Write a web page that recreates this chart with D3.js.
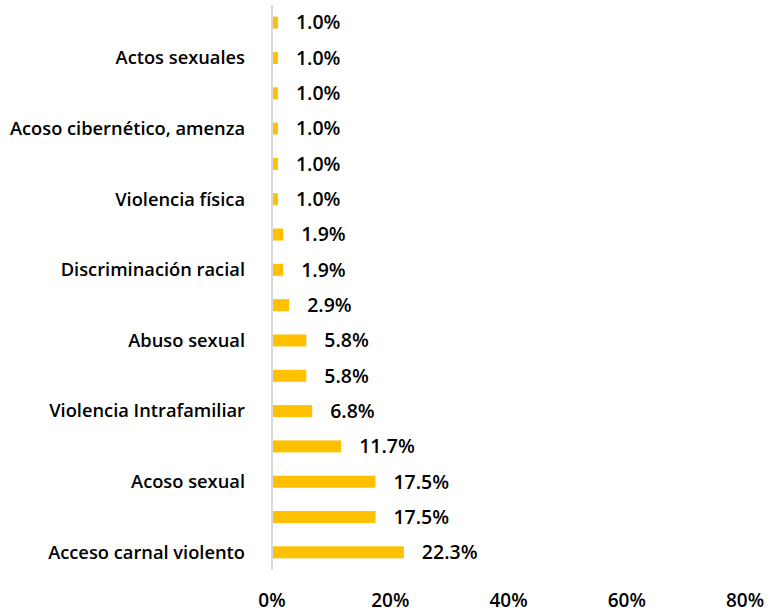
<!DOCTYPE html>
<html>
<head>
<meta charset="utf-8">
<script src="https://cdn.jsdelivr.net/npm/d3@7"></script>
<style>
  body { margin: 0; background: #fff; }
  text { font-family: "Open Sans", Lato, sans-serif; font-weight: 600; fill: #000; }
</style>
</head>
<body>
<div id="canvas"></div>
<script>
const canvWidth = 770, canvHeight = 613;

// categories top to bottom; only every second one carries a visible label
const categories = [
    "", "Actos sexuales", "", "Acoso cibernético, amenza", "", "Violencia física",
    "", "Discriminación racial", "", "Abuso sexual", "", "Violencia Intrafamiliar",
    "", "Acoso sexual", "", "Acceso carnal violento"
];
const values = [1.0, 1.0, 1.0, 1.0, 1.0, 1.0, 1.9, 1.9, 2.9, 5.8, 5.8, 6.8, 11.7, 17.5, 17.5, 22.3];
const ticks = [0, 20, 40, 60, 80];

const svg = d3.select("#canvas").append("svg")
    .attr("width", canvWidth)
    .attr("height", canvHeight);

const margin = {top: 5, right: 25, bottom: 43, left: 272};
const width = canvWidth - margin.left - margin.right;
const height = canvHeight - margin.top - margin.bottom;

const g = svg.append("g")
    .attr("transform", "translate(" + margin.left + "," + margin.top + ")");

const x = d3.scaleLinear().domain([0, 80]).range([0, 473]);
const y = d3.scaleBand()
    .domain(d3.range(categories.length))
    .range([0, height])
    .paddingInner(0.66)
    .paddingOuter(0.33);

g.selectAll(".bar")
    .data(values)
    .enter().append("rect")
    .attr("class", "bar")
    .attr("x", 0)
    .attr("y", (d, i) => y(i))
    .attr("width", d => x(d))
    .attr("height", y.bandwidth())
    .style("fill", "#FFC000");

// value labels
g.selectAll(".val")
    .data(values)
    .enter().append("text")
    .attr("class", "val")
    .attr("x", d => x(d) + 18)
    .attr("y", (d, i) => y(i) + y.bandwidth() / 2)
    .attr("dy", "0.35em")
    .style("font-size", "19.5px")
    .text(d => d.toFixed(1) + "%");

// category labels
g.selectAll(".cat")
    .data(categories)
    .enter().append("text")
    .attr("class", "cat")
    .attr("x", -27)
    .attr("y", (d, i) => y(i) + y.bandwidth() / 2)
    .attr("dy", "0.35em")
    .attr("text-anchor", "end")
    .style("font-size", "18.3px")
    .text(d => d);

// axis line
g.append("line")
    .attr("x1", 0).attr("x2", 0)
    .attr("y1", 0).attr("y2", height)
    .style("stroke", "#d9d9d9")
    .style("stroke-width", 2);

// x tick labels
g.selectAll(".tick")
    .data(ticks)
    .enter().append("text")
    .attr("class", "tick")
    .attr("x", d => x(d))
    .attr("y", height + 30)
    .attr("dy", "0.35em")
    .attr("text-anchor", "middle")
    .style("font-size", "19px")
    .text(d => d + "%");
</script>
</body>
</html>
